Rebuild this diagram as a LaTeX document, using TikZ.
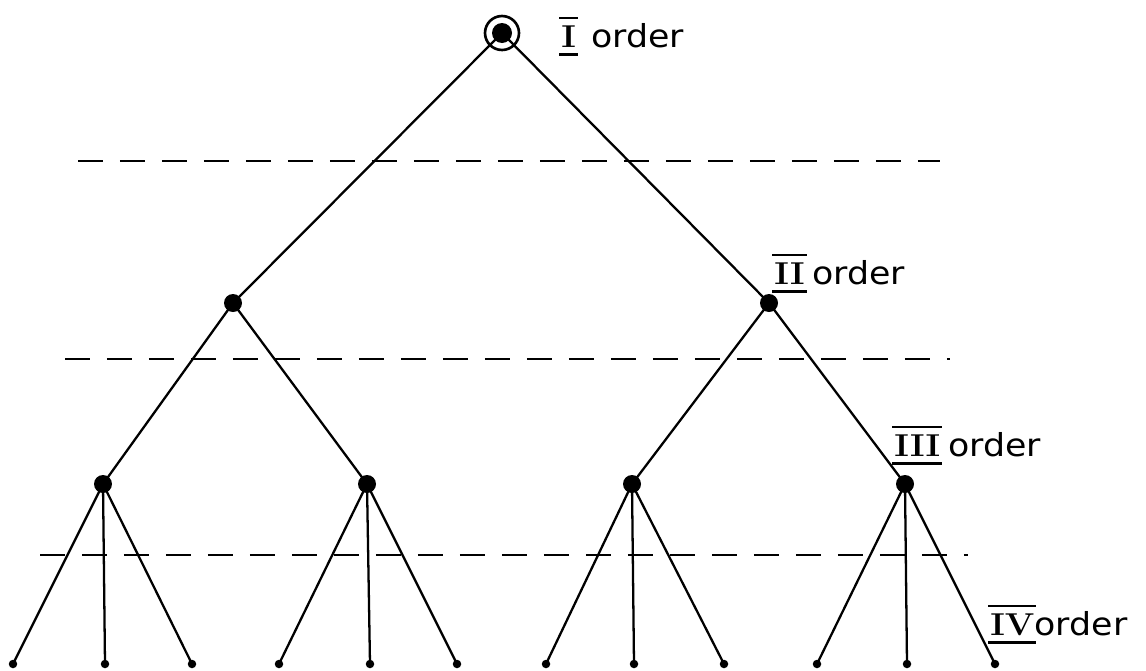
\documentclass[tikz,border=0pt]{standalone}
\usepackage{fontspec}
\setmainfont{DejaVu Sans}
\newfontfamily\numfont{Latin Modern Roman}
\newcommand{\rn}[1]{\setbox0=\hbox{\numfont\bfseries #1}\leavevmode
  \rlap{\hspace{-1pt}\raisebox{-5pt}{\rule{\dimexpr\wd0+2pt}{1.4pt}}}%
  \rlap{\hspace{-1pt}\raisebox{\dimexpr\ht0+3.5pt}{\rule{\dimexpr\wd0+2pt}{1.4pt}}}\box0}
\begin{document}
\begin{tikzpicture}[x=0.02cm,y=-0.02cm,
  edge/.style={line width=1.3pt},
  levelline/.style={line width=1.3pt, dash pattern=on 0.5cm off 0.34cm},
  bigdot/.style={circle,fill=black,inner sep=0pt,minimum size=0.36cm},
  leaf/.style={circle,fill=black,inner sep=0pt,minimum size=0.17cm},
  lab/.style={anchor=base west,font=\fontsize{18}{21}\selectfont,inner sep=0pt,xscale=1.1}]
\useasboundingbox (0,0) rectangle (1146,670);
% dashed level lines
\coordinate (d1a) at (78,161); \coordinate (d1b) at (940,161);
\coordinate (d2a) at (65,359); \coordinate (d2b) at (950,359);
\coordinate (d3a) at (40,555); \coordinate (d3b) at (968,555);
\draw[levelline] (d1a) -- (d1b);
\draw[levelline] (d2a) -- (d2b);
\draw[levelline] (d3a) -- (d3b);
% nodes
\node[bigdot,minimum size=0.4cm] (r) at (502,33) {};
\draw[line width=1.5pt] (r.center) circle (0.34cm);
\node[bigdot] (a) at (233,303) {};
\node[bigdot] (b) at (769,303) {};
\node[bigdot] (a1) at (103,484) {};
\node[bigdot] (a2) at (367,484) {};
\node[bigdot] (b1) at (632,484) {};
\node[bigdot] (b2) at (905,484) {};
\foreach \n/\x in {l1/13,l2/105,l3/192,l4/279,l5/370,l6/457,l7/546,l8/634,l9/724,l10/817,l11/907,l12/995}
  \node[leaf] (\n) at (\x,664) {};
% edges
\draw[edge] (r.center) -- (a.center);
\draw[edge] (r.center) -- (b.center);
\draw[edge] (a.center) -- (a1.center);
\draw[edge] (a.center) -- (a2.center);
\draw[edge] (b.center) -- (b1.center);
\draw[edge] (b.center) -- (b2.center);
\foreach \p/\c in {a1/l1,a1/l2,a1/l3,a2/l4,a2/l5,a2/l6,b1/l7,b1/l8,b1/l9,b2/l10,b2/l11,b2/l12}
  \draw[edge] (\p.center) -- (\c.center);
% labels
\node[lab] (t1) at (561,47) {\rn{I}\hspace{8pt}order};
\node[lab] (t2) at (774,284) {\rn{II}\hspace{4pt}order};
\node[lab] (t3) at (894,456) {\rn{III}\hspace{4pt}order};
\node[lab] (t4) at (990,635) {\rn{IV}\hspace{0pt}order};
\end{tikzpicture}
\end{document}
